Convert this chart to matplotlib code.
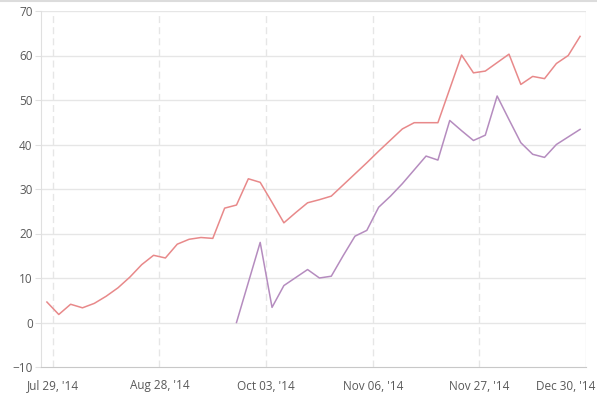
import matplotlib
matplotlib.use('Agg')
import matplotlib.pyplot as plt
import matplotlib.transforms as mtransforms
from matplotlib.lines import Line2D
import numpy as np

# %% data (categorical axis, one point per category)
series_a = [4.6, 1.8, 4.1, 3.3, 4.3, 5.9, 7.8, 10.2, 13.0, 15.1,
            14.5, 17.6, 18.7, 19.1, 18.9, 25.7, 26.4, 32.3, 31.5, 27.0,
            22.4, 24.7, 26.9, 27.6, 28.4, 30.9, 33.4, 35.9, 38.5, 41.0,
            43.5, 44.9, 44.9, 44.9, 52.5, 60.1, 56.1, 56.5, 58.4, 60.3,
            53.5, 55.3, 54.8, 58.2, 60.0, 64.3]
series_b = [None] * 16 + [0.0, 9.0, 18.0, 3.4, 8.3, 10.1, 11.9, 10.0, 10.4, 15.0,
                         19.4, 20.7, 25.9, 28.4, 31.2, 34.3, 37.4, 36.5, 45.4, 43.1,
                         40.9, 42.1, 50.9, 45.6, 40.4, 37.8, 37.1, 40.0, 41.7, 43.4]
tick_labels = ["Jul 29, '14", "Aug 28, '14", "Oct 03, '14",
               "Nov 06, '14", "Nov 27, '14", "Dec 30, '14"]

# %%
x = np.arange(len(series_a))
yb = np.array([np.nan if v is None else v for v in series_b])

fig = plt.figure(figsize=(5.97, 3.93), dpi=100)
ax = fig.add_axes([41 / 597, 26 / 393, 545 / 597, 356 / 393])

ax.plot(x, series_a, color='#e8898a', linewidth=1.1)
ax.plot(x, yb, color='#b58cbf', linewidth=1.1)

ax.set_xlim(-0.5, len(series_a) - 0.5)
ax.set_ylim(-10, 70)
ax.set_yticks(np.arange(-10, 71, 10))
xt = np.arange(0.5, len(series_a), 9)
ax.set_xticks(xt)
ax.set_xticklabels(tick_labels)

for y in range(0, 71, 10):
    ax.axhline(y, color='#e6e6e6', linewidth=1, zorder=0)
for xv in xt[:-1]:
    ax.axvline(xv, color='#e6e6e6', linewidth=1, linestyle=(0, (5, 3)), zorder=0)

for s in ['top', 'right']:
    ax.spines[s].set_visible(False)
ax.axvline(len(series_a) - 0.5, color='#e6e6e6', linewidth=1, zorder=0)
ax.spines['left'].set_color('#e0e0e0')
ax.spines['bottom'].set_color('#c8c8c8')

ax.tick_params(axis='y', length=4, color='#e0e0e0', pad=2,
               labelsize=8.5, labelcolor='#595959')
ax.tick_params(axis='x', length=0, pad=9,
               labelsize=8.5, labelcolor='#595959')
for lab in ax.get_xticklabels() + ax.get_yticklabels():
    lab.set_family('Open Sans')

# last label is pushed inside the image, as in the original
last = ax.get_xticklabels()[-1]
last.set_horizontalalignment('right')
last.set_transform(last.get_transform() +
                   mtransforms.ScaledTranslation(0.09, 0, fig.dpi_scale_trans))

fig.add_artist(Line2D([0, 1], [0.997, 0.997], color='#dcdcdc', linewidth=1.5))

fig.savefig('out.png', dpi=100)
